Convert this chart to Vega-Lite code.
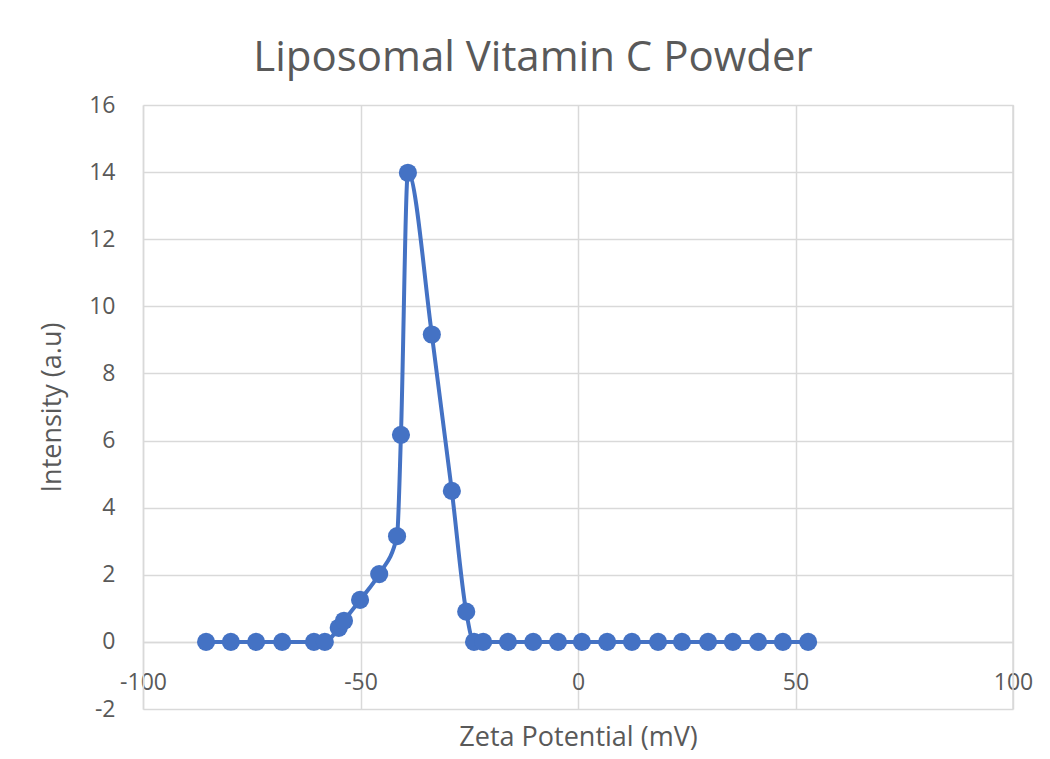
{
  "$schema": "https://vega.github.io/schema/vega-lite/v6.json",
  "width": 870,
  "height": 604,
  "autosize": {"type": "none"},
  "padding": {"left": 143, "top": 105, "right": 37, "bottom": 50},
  "background": "white",
  "title": {
    "text": "Liposomal Vitamin C Powder",
    "font": "Open Sans",
    "fontSize": 42,
    "fontWeight": "normal",
    "color": "#595959",
    "anchor": "middle",
    "dx": -45,
    "offset": 14
  },
  "config": {
    "view": {"stroke": null},
    "axis": {
      "labelFont": "Open Sans",
      "titleFont": "Open Sans",
      "labelColor": "#595959",
      "titleColor": "#595959",
      "labelFontSize": 23,
      "titleFontSize": 27,
      "titleFontWeight": "normal",
      "gridColor": "#d9d9d9",
      "gridWidth": 1.5,
      "ticks": false,
      "labelExpr": "replace(datum.label, '−', '-')"
    }
  },
  "data": {
    "values": [
      {"x": -85.5, "y": 0},
      {"x": -79.8, "y": 0},
      {"x": -74.0, "y": 0},
      {"x": -68.0, "y": 0},
      {"x": -60.7, "y": 0},
      {"x": -58.2, "y": 0},
      {"x": -55.0, "y": 0.42},
      {"x": -53.8, "y": 0.63},
      {"x": -50.1, "y": 1.25},
      {"x": -45.7, "y": 2.02},
      {"x": -41.6, "y": 3.15},
      {"x": -40.7, "y": 6.17},
      {"x": -39.1, "y": 13.98},
      {"x": -33.6, "y": 9.16},
      {"x": -29.0, "y": 4.5},
      {"x": -25.7, "y": 0.9},
      {"x": -23.9, "y": 0},
      {"x": -21.8, "y": 0},
      {"x": -16.1, "y": 0},
      {"x": -10.3, "y": 0},
      {"x": -4.6, "y": 0},
      {"x": 0.9, "y": 0},
      {"x": 6.7, "y": 0},
      {"x": 12.4, "y": 0},
      {"x": 18.4, "y": 0},
      {"x": 23.9, "y": 0},
      {"x": 29.9, "y": 0},
      {"x": 35.6, "y": 0},
      {"x": 41.4, "y": 0},
      {"x": 47.1, "y": 0},
      {"x": 52.9, "y": 0}
    ]
  },
  "layer": [
    {
      "mark": {"type": "rule", "color": "#d9d9d9", "strokeWidth": 1.5},
      "data": {"values": [{"x": 100}]},
      "encoding": {"x": {"field": "x", "type": "quantitative", "scale": {"domain": [-100, 100]}}}
    },
    {
      "mark": {"type": "line", "interpolate": "monotone", "color": "#4472C4", "strokeWidth": 4},
      "encoding": {
        "x": {
          "field": "x",
          "type": "quantitative",
          "scale": {"domain": [-100, 100], "nice": false, "zero": false},
          "axis": {
            "title": "Zeta Potential (mV)",
            "values": [-100, -50, 0, 50, 100],
            "offset": -67,
            "domainColor": "#d9d9d9",
            "domainWidth": 1.5,
            "labelPadding": 29,
            "titlePadding": 30,
            "labelFlush": false
          }
        },
        "y": {
          "field": "y",
          "type": "quantitative",
          "scale": {"domain": [-2, 16], "nice": false, "zero": false},
          "axis": {
            "title": "Intensity (a.u)",
            "values": [-2, 0, 2, 4, 6, 8, 10, 12, 14, 16],
            "domainColor": "#d9d9d9",
            "domainWidth": 1.5,
            "labelPadding": 28,
            "titlePadding": 22
          }
        }
      }
    },
    {
      "mark": {"type": "point", "filled": true, "shape": "circle", "size": 330, "color": "#4472C4", "opacity": 1},
      "encoding": {
        "x": {"field": "x", "type": "quantitative"},
        "y": {"field": "y", "type": "quantitative"}
      }
    }
  ]
}
